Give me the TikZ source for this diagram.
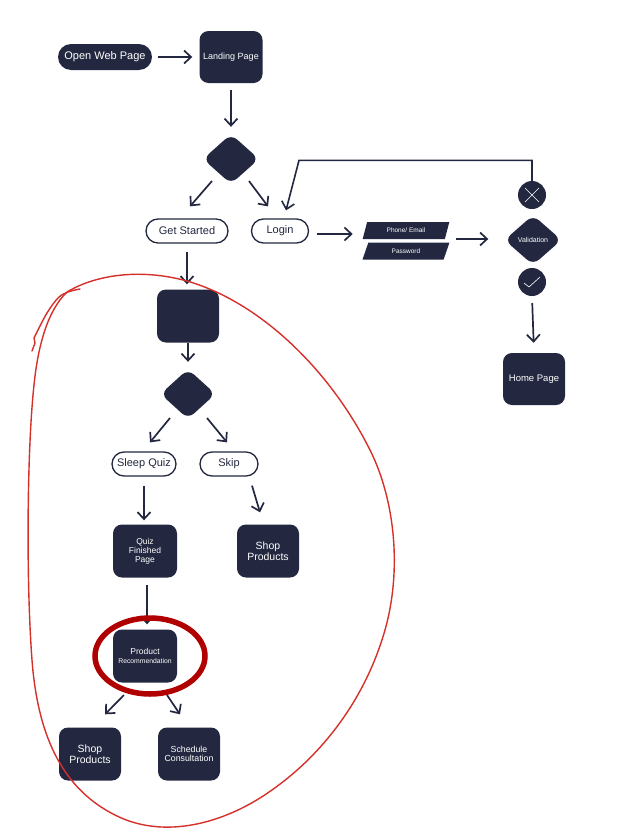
\documentclass[tikz,border=0pt]{standalone}
\usepackage{fontspec}
\setmainfont{Liberation Sans}
\usetikzlibrary{shapes.geometric,shapes.misc,arrows.meta}
\definecolor{navy}{RGB}{35,40,64}
\definecolor{hand}{RGB}{214,48,42}
\definecolor{dred}{RGB}{176,0,0}
\tikzset{
  box/.style={rectangle, rounded corners=9pt, fill=navy, draw=none, text=white, inner sep=0pt, minimum width=63pt, minimum height=53pt, align=center},
  dia/.style={diamond, rounded corners=8pt, fill=navy, text=white, inner sep=0pt, minimum width=56pt, minimum height=50pt, align=center},
  pill/.style={rounded rectangle, draw=navy, line width=1.3pt, fill=white, text=navy, inner sep=0pt, minimum height=24pt, font=\fontsize{11}{12}\selectfont},
  para/.style={trapezium, trapezium left angle=65, trapezium right angle=115, trapezium stretches=true, fill=navy, text=white, inner sep=0pt, minimum width=87pt, minimum height=17pt, font=\fontsize{6.5}{7}\selectfont},
  disc/.style={circle, fill=navy, inner sep=0pt, minimum size=28pt},
  arr/.style={draw=navy, line width=1.7pt, -{Straight Barb[length=7pt,width=13pt]}},
  redline/.style={draw=hand, line width=1.4pt, line cap=round, line join=round},
}
\begin{document}
\begin{tikzpicture}[x=1pt,y=-1pt]
\useasboundingbox[fill=white] (0,0) rectangle (634,838);

% top row
\node[rounded rectangle, fill=navy, text=white, inner sep=0pt, minimum width=94pt, minimum height=26pt, font=\fontsize{11}{12}\selectfont] (owp) at (105,57) {Open Web Page};
\node[box, minimum height=52pt, font=\fontsize{9}{10}\selectfont] (land) at (231,57) {Landing Page};
\node[dia] (d1) at (231,159) {};
\node[pill, minimum width=82pt] (gs) at (187,231) {Get Started};
\node[pill, minimum width=57pt] (login) at (280,231) {Login};

% login branch
\node[para] (pe) at (406,230.5) {Phone/ Email};
\node[para] (pw) at (406,251) {Password};
\node[dia, minimum width=57pt, font=\fontsize{7}{8}\selectfont] (val) at (533,240) {Validation};
\node[disc] (xc) at (532,195) {};
\node[disc] (chk) at (532,282) {};
\node[box, minimum width=62pt, minimum height=52pt, font=\fontsize{9.5}{10}\selectfont] (home) at (534,379) {Home Page};

% get started branch
\node[box, minimum width=62pt] (b3) at (188,316) {};
\node[dia, minimum width=55pt] (d2) at (188,394) {};
\node[pill, minimum width=64pt] (sq) at (144,464) {Sleep Quiz};
\node[pill, minimum width=58pt] (skip) at (229,464) {Skip};
\node[box, minimum width=64pt, font=\fontsize{8.5}{8.8}\selectfont] (qf) at (145,551) {Quiz\\Finished\\Page};
\node[box, minimum width=62pt, font=\fontsize{10.5}{9.5}\selectfont] (shop1) at (268,551) {Shop\\Products};
\node[box, minimum width=64pt, font=\fontsize{8.5}{9.5}\selectfont] (pr) at (145,656) {Product\\{\fontsize{6.8}{7}\selectfont Recommendation}};
\node[box, minimum width=62pt, font=\fontsize{10.5}{9.5}\selectfont] (shop2) at (90,754) {Shop\\Products};
\node[box, minimum width=62pt, font=\fontsize{8.8}{9.3}\selectfont] (sched) at (189,754) {Schedule\\Consultation};

% X and check marks
\draw[white, line width=0.6pt] ([shift={(-7,-7)}]xc.center) -- ([shift={(7,7)}]xc.center);
\draw[white, line width=0.6pt] ([shift={(-7,7)}]xc.center) -- ([shift={(7,-7)}]xc.center);
\draw[white, line width=0.6pt] ([shift={(-8,1)}]chk.center) -- ([shift={(-3,5)}]chk.center) -- ([shift={(8,-5)}]chk.center);

% connectors
\draw[arr, shorten <=6pt, shorten >=7pt] (owp.east) -- (land.west);
\draw[arr, shorten <=7pt, shorten >=7pt] (land.south) -- (d1.north);
\draw[arr] ([shift={(-19,22)}]d1.center) -- ([shift={(3,-12)}]gs.north);
\draw[arr] ([shift={(18,22)}]d1.center) -- ([shift={(-12,-12)}]login.north);
\draw[arr] ([shift={(8,3)}]login.east) -- ([shift={(-12,3)}]login.east -| pe.west);
\draw[arr] ([shift={(9,8.5)}]pe.east) -- ([shift={(-16,-1)}]val.west);
\draw[arr, line width=1.6pt] (xc.north) |- ([shift={(19,-58)}]login.north) -- ([shift={(6,-8)}]login.north);
\draw[arr, shorten <=7pt, shorten >=10pt] (chk.south) -- (home.north);

\draw[arr, shorten <=8pt, shorten >=5pt] (gs.south) -- (gs.south |- b3.north);
\draw[arr, shorten >=7pt] (b3.south) -- (d2.north);
\draw[arr] ([shift={(-18,24)}]d2.center) -- ([shift={(6,-9)}]sq.north);
\draw[arr] ([shift={(19,24)}]d2.center) -- ([shift={(-2,-9)}]skip.north);
\draw[arr, shorten <=9pt, shorten >=4pt] (sq.south) -- (sq.south |- qf.north);
\draw[arr] ([shift={(23,9)}]skip.south) -- ([shift={(-8,-12)}]shop1.north);
\draw[arr, shorten <=7pt, shorten >=5pt] ([shift={(2,0)}]qf.south) -- ([shift={(2,0)}]pr.north);
\draw[arr] ([shift={(-21,39)}]pr.center) -- ([shift={(15,-13)}]shop2.north);
\draw[arr] ([shift={(22,39)}]pr.center) -- ([shift={(-9,-13)}]sched.north);

% red annotations
\draw[dred, line width=5.5pt] (pr.center) ++(5,0) ellipse [x radius=55, y radius=38];
\draw[redline] (67,292) .. controls (95,275) and (140,268) .. (187,281)
  .. controls (260,302) and (330,370) .. (370,450)
  .. controls (395,500) and (402,570) .. (385,630)
  .. controls (365,700) and (320,760) .. (260,798)
  .. controls (215,826) and (160,838) .. (115,815)
  .. controls (65,790) and (38,740) .. (32,660)
  .. controls (26,580) and (27,450) .. (34,385)
  .. controls (38,345) and (48,310) .. (67,292);
\draw[redline] plot[smooth, tension=0.6] coordinates {(80,289) (68,292) (58,298) (47,313) (38,330)} -- (34,338) -- (35,343) -- (32,351);
\end{tikzpicture}
\end{document}
